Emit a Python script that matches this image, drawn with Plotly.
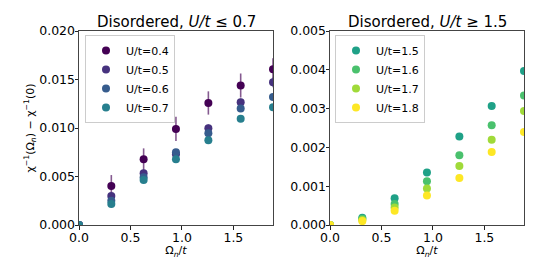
import plotly.graph_objects as go

omega = [0.0, 0.314, 0.628, 0.942, 1.257, 1.571, 1.885]

# Left panel: U/t <= 0.7
u_low = ["U/t=0.4", "U/t=0.5", "U/t=0.6", "U/t=0.7"]
y_u04 = [0.0, 0.00402, 0.00677, 0.0099, 0.01258, 0.01438, 0.01605]
e_u04 = [0.0, 0.00113, 0.00113, 0.00125, 0.0012, 0.00124, 0.00113]
y_u05 = [0.0, 0.00299, 0.00533, 0.0073, 0.00998, 0.01265, 0.01471]
e_u05 = [0.0, 0.0003, 0.0003, 0.0003, 0.0004, 0.0004, 0.0005]
y_u06 = [0.0, 0.0025, 0.00492, 0.0075, 0.00945, 0.01202, 0.0132]
e_u06 = [0.0, 0.0002, 0.0002, 0.0002, 0.0003, 0.0003, 0.0003]
y_u07 = [0.0, 0.00216, 0.00464, 0.00677, 0.00873, 0.01096, 0.01213]
e_u07 = [0.0, 0.0002, 0.0002, 0.0002, 0.0002, 0.0002, 0.0002]

# Right panel: U/t >= 1.5
u_high = ["U/t=1.5", "U/t=1.6", "U/t=1.7", "U/t=1.8"]
y_u15 = [0.0, 0.00019, 0.00069, 0.00135, 0.00228, 0.00307, 0.00397]
y_u16 = [0.0, 0.00016, 0.00054, 0.00113, 0.0018, 0.00257, 0.00334]
y_u17 = [0.0, 0.00013, 0.00045, 0.00094, 0.00152, 0.0022, 0.00294]
y_u18 = [0.0, 0.0001, 0.00037, 0.00076, 0.00121, 0.00188, 0.0024]

left_ticks = [0.0, 0.005, 0.01, 0.015, 0.02]
left_ticktext = ["0.000", "0.005", "0.010", "0.015", "0.020"]
right_ticks = [0.0, 0.001, 0.002, 0.003, 0.004, 0.005]
right_ticktext = ["0.000", "0.001", "0.002", "0.003", "0.004", "0.005"]
x_ticks = [0.0, 0.5, 1.0, 1.5]
x_ticktext = ["0.0", "0.5", "1.0", "1.5"]

colors_low = ["#440154", "#46327e", "#365c8d", "#277f8e"]
colors_high = ["#1fa187", "#4ac16d", "#a0da39", "#fde725"]
err_colors = ["rgba(68,1,84,0.65)", "rgba(70,50,126,0.65)", "rgba(54,92,141,0.65)", "rgba(39,127,142,0.65)"]

W, H = 540, 270
OFF = 8  # page body margin


def px(x):
    return (x - OFF) / W


def py(y):
    return (H - (y - OFF)) / H


fig = go.Figure()

low_series = [(y_u04, e_u04), (y_u05, e_u05), (y_u06, e_u06), (y_u07, e_u07)]
for name, (ys, es), c, ec in zip(u_low, low_series, colors_low, err_colors):
    fig.add_trace(go.Scatter(
        x=omega, y=ys, mode="markers", name=name,
        marker=dict(color=c, size=8, line=dict(width=0)),
        error_y=dict(type="data", array=es, visible=True, thickness=1.6, width=0, color=ec),
        xaxis="x", yaxis="y", legend="legend",
    ))

high_series = [y_u15, y_u16, y_u17, y_u18]
for name, ys, c in zip(u_high, high_series, colors_high):
    fig.add_trace(go.Scatter(
        x=omega, y=ys, mode="markers", name=name,
        marker=dict(color=c, size=8, line=dict(width=0)),
        xaxis="x2", yaxis="y2", legend="legend2",
    ))

font_family = "DejaVu Sans"
axis_common = dict(
    showline=True, linecolor="#444", linewidth=1, mirror=True,
    ticks="outside", ticklen=3.5, tickwidth=1, tickcolor="#222",
    showgrid=False, zeroline=False, automargin=False,
    tickfont=dict(family=font_family, size=12.5, color="black"),
)

yd = [py(225), py(31)]
xlabel = "Ω<sub><i>n</i></sub>/<i>t</i>"
fig.update_layout(
    width=W, height=H,
    margin=dict(l=0, r=0, t=0, b=0, autoexpand=False),
    paper_bgcolor="white", plot_bgcolor="white",
    font=dict(family=font_family, color="black"),
    showlegend=True,
    xaxis=dict(domain=[px(79), px(273)], range=[0, 1.885], tickvals=x_ticks, ticktext=x_ticktext,
               anchor="y", ticklabelstandoff=-3,
               title=dict(text=xlabel, font=dict(size=11, family=font_family), standoff=0),
               **axis_common),
    yaxis=dict(domain=yd, range=[0, 0.02], tickvals=left_ticks, ticktext=left_ticktext, anchor="x",
               ticklabelstandoff=-3,
               title=dict(text="χ<sup>−1</sup>(Ω<sub><i>n</i></sub>) − χ<sup>−1</sup>(0)",
                          font=dict(size=11, family=font_family), standoff=2),
               **axis_common),
    xaxis2=dict(domain=[px(330), px(524)], range=[0, 1.885], tickvals=x_ticks, ticktext=x_ticktext,
                anchor="y2", ticklabelstandoff=-3,
                title=dict(text=xlabel, font=dict(size=11, family=font_family), standoff=0),
                **axis_common),
    yaxis2=dict(domain=yd, range=[0, 0.005], tickvals=right_ticks, ticktext=right_ticktext, anchor="x2",
                ticklabelstandoff=-3,
                **axis_common),
    legend=dict(x=px(85), y=py(35), xanchor="left", yanchor="top",
                bgcolor="rgba(255,255,255,0.8)", bordercolor="#cccccc", borderwidth=1,
                font=dict(size=11, family=font_family), itemwidth=30, tracegroupgap=0),
    legend2=dict(x=px(335), y=py(35), xanchor="left", yanchor="top",
                 bgcolor="rgba(255,255,255,0.8)", bordercolor="#cccccc", borderwidth=1,
                 font=dict(size=11, family=font_family), itemwidth=30, tracegroupgap=0),
    annotations=[
        dict(text="Disordered, <i>U/t</i> ≤ 0.7", x=px(176), y=py(22), xref="paper", yref="paper",
             showarrow=False, xanchor="center", yanchor="middle", font=dict(size=15, family=font_family)),
        dict(text="Disordered, <i>U/t</i> ≥ 1.5", x=px(427), y=py(22), xref="paper", yref="paper",
             showarrow=False, xanchor="center", yanchor="middle", font=dict(size=15, family=font_family)),
    ],
)

fig.write_html("out.html")
